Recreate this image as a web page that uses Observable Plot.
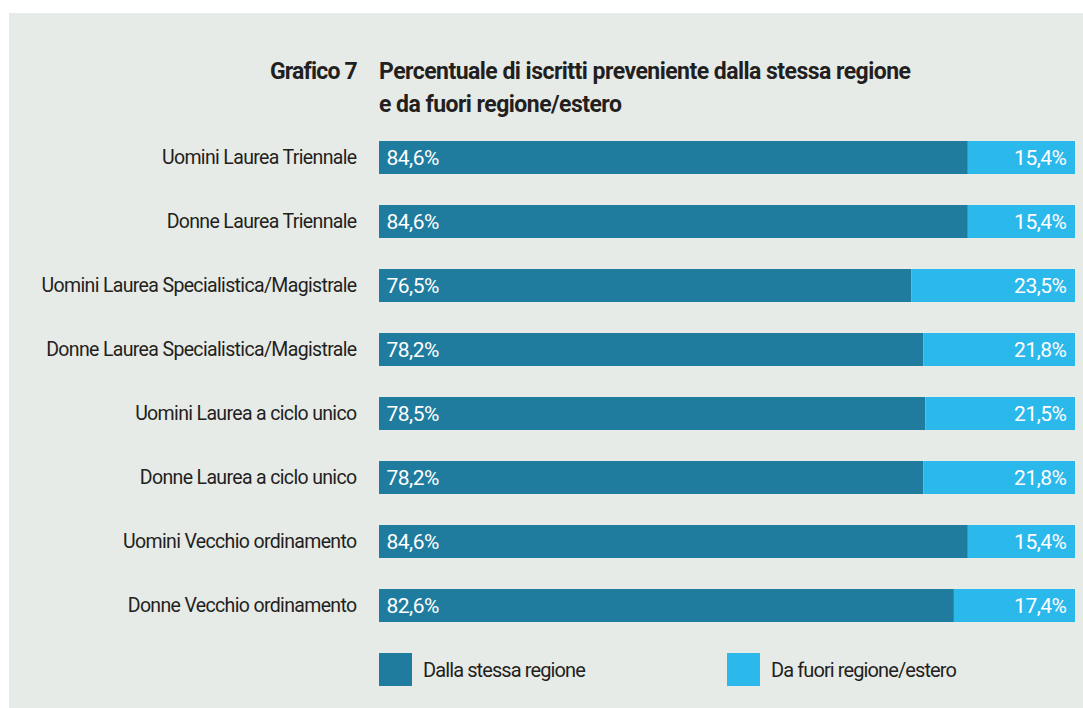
<!DOCTYPE html>
<html>
<head>
<meta charset="utf-8">
<script src="https://cdn.jsdelivr.net/npm/d3@7"></script>
<script src="https://cdn.jsdelivr.net/npm/@observablehq/plot@0.6"></script>
<style>
  html, body { margin: 0; padding: 0; background: #ffffff; }
  body { width: 1083px; height: 708px; overflow: hidden; font-family: Roboto, "Liberation Sans", sans-serif; color: #231f20; }
  #wrap { position: relative; width: 1083px; height: 708px; }
  #panel { position: absolute; left: 9px; top: 13px; right: 0; bottom: 0; background: #e7ebe8; }
  #title { position: relative; height: 128px; box-sizing: border-box; padding-top: 55px; display: flex; font-weight: bold; font-size: 23px; line-height: 33px; }
  #title .num { width: 357px; text-align: right; white-space: nowrap; letter-spacing: -0.8px; }
  #title .txt { margin-left: 22px; letter-spacing: -0.53px; }
  #chart { position: relative; }
  #chart svg { display: block; }
  #chart svg g[aria-label="y-axis tick label"] text { letter-spacing: -0.65px; }
  #chart svg g[aria-label="text"] text { letter-spacing: -0.5px; }
  #legend { position: relative; height: 50px; margin-top: 29px; font-size: 20px; letter-spacing: -0.9px; }
  .item { position: absolute; top: 0; display: flex; align-items: center; height: 33px; }
  .sw { width: 33px; height: 33px; margin-right: 11px; }
</style>
</head>
<body>
<div id="wrap">
  <div id="panel"></div>
  <div id="title"><div class="num">Grafico 7</div><div class="txt">Percentuale di iscritti preveniente dalla stessa regione<br>e da fuori regione/estero</div></div>
  <div id="chart"></div>
  <div id="legend"></div>
</div>
<script>
const categories = [
  "Uomini Laurea Triennale",
  "Donne Laurea Triennale",
  "Uomini Laurea Specialistica/Magistrale",
  "Donne Laurea Specialistica/Magistrale",
  "Uomini Laurea a ciclo unico",
  "Donne Laurea a ciclo unico",
  "Uomini Vecchio ordinamento",
  "Donne Vecchio ordinamento"
];
const seriesNames = ["Dalla stessa regione", "Da fuori regione/estero"];
const stessaRegione = [84.6, 84.6, 76.5, 78.2, 78.5, 78.2, 84.6, 82.6];
const fuoriRegione = [15.4, 15.4, 23.5, 21.8, 21.5, 21.8, 15.4, 17.4];
const colors = ["#207c9f", "#2bb9ec"];

const rows = [];
categories.forEach((c, i) => {
  rows.push({cat: c, series: seriesNames[0], value: stessaRegione[i], order: 0});
  rows.push({cat: c, series: seriesNames[1], value: fuoriRegione[i], order: 1});
});
const fmt = v => v.toFixed(1).replace(".", ",") + "%";
const font = 'Roboto, "Liberation Sans", sans-serif';

const chart = Plot.plot({
  width: 1083,
  height: 496,
  marginLeft: 379,
  marginRight: 8,
  marginTop: 13,
  marginBottom: 0,
  style: {background: "transparent", fontFamily: font, fontSize: "19.5px", color: "#231f20"},
  x: {domain: [0, 100], axis: null},
  y: {domain: categories, paddingInner: 0.487, paddingOuter: 0, align: 0, tickSize: 0, tickPadding: 23, label: null},
  color: {domain: seriesNames, range: colors},
  marks: [
    Plot.barX(rows, Plot.stackX({x: "value", y: "cat", fill: "series", order: "order"})),
    Plot.text(rows.filter(d => d.order === 0), {x: 0, y: "cat", text: d => fmt(d.value), textAnchor: "start", dx: 7, fill: "white", fontSize: 21}),
    Plot.text(rows.filter(d => d.order === 1), {x: 100, y: "cat", text: d => fmt(d.value), textAnchor: "end", dx: -9, fill: "white", fontSize: 21})
  ]
});
document.getElementById("chart").appendChild(chart);

const legend = document.getElementById("legend");
const legendX = [379, 727];
seriesNames.forEach((s, i) => {
  const item = document.createElement("div");
  item.className = "item";
  item.style.left = legendX[i] + "px";
  const sw = document.createElement("div");
  sw.className = "sw";
  sw.style.background = colors[i];
  const t = document.createElement("span");
  t.textContent = s;
  item.appendChild(sw);
  item.appendChild(t);
  legend.appendChild(item);
});
</script>
</body>
</html>
